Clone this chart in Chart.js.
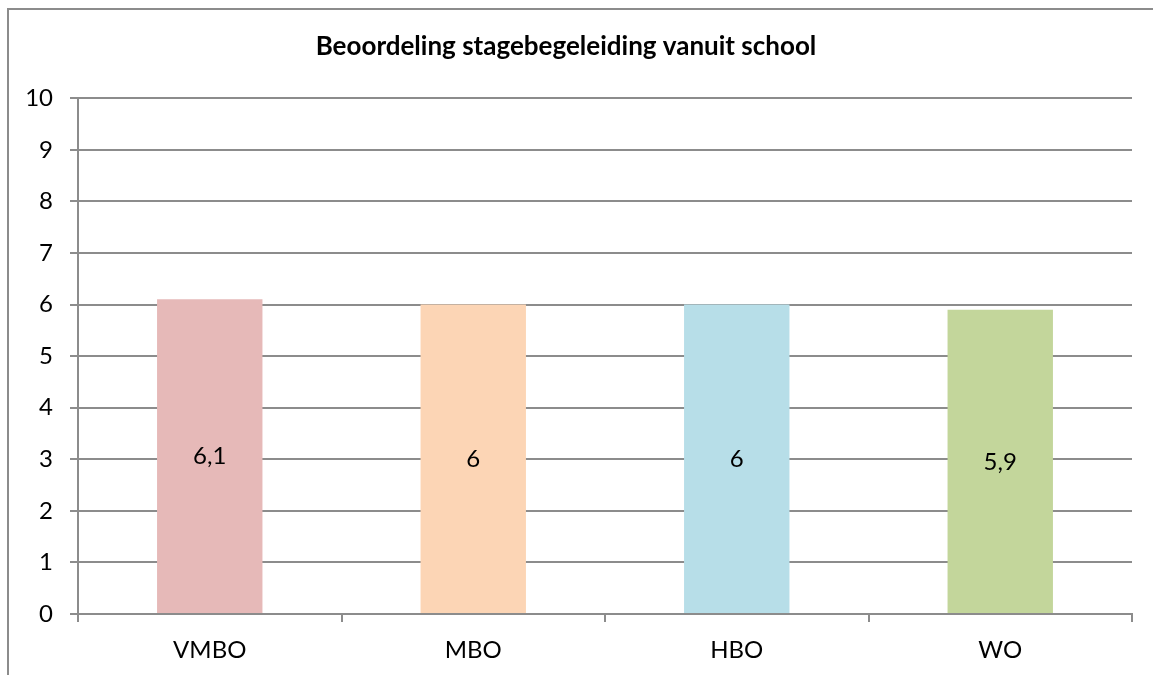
<!DOCTYPE html>
<html>
<head>
<meta charset="utf-8">
<script src="https://cdn.jsdelivr.net/npm/chart.js@4.4.1/dist/chart.umd.min.js"></script>
<style>
    html, body { margin: 0; padding: 0; background: #fff; overflow: hidden; }
    #wrap { position: relative; width: 1153px; height: 675px; }
    #frame {
        position: absolute; left: 7px; top: 8px;
        width: 1300px; height: 900px;
        border: 2px solid #8c8c8c;
    }
    #chart { position: absolute; left: 0; top: 0; }
</style>
</head>
<body>
<div id="wrap">
    <div id="frame"></div>
    <canvas id="chart" width="1153" height="675"></canvas>
</div>
<script>
const TITLE = 'Beoordeling stagebegeleiding vanuit school';
const categories = ['VMBO', 'MBO', 'HBO', 'WO'];
const scores = [6.1, 6, 6, 5.9];
const barColors = ['#E6B9B8', '#FCD5B5', '#B7DEE8', '#C3D69B'];
const yTicks = [0, 1, 2, 3, 4, 5, 6, 7, 8, 9, 10];

const FONT = 'Lato, "Open Sans", sans-serif';
const GRID = '#8c8c8c';

// labels in the middle of each bar, Dutch decimal comma
const barLabels = {
    id: 'barLabels',
    afterDatasetsDraw(chart) {
        const ctx = chart.ctx;
        const meta = chart.getDatasetMeta(0);
        const yScale = chart.scales.y;
        ctx.save();
        ctx.font = '24px ' + FONT;
        ctx.fillStyle = '#000';
        ctx.textAlign = 'center';
        ctx.textBaseline = 'middle';
        meta.data.forEach((bar, i) => {
            const v = scores[i];
            const yMid = yScale.getPixelForValue(v / 2);
            ctx.fillText(String(v).replace('.', ','), bar.x, yMid);
        });
        ctx.restore();
    }
};

new Chart(document.getElementById('chart'), {
    type: 'bar',
    data: {
        labels: categories,
        datasets: [{
            data: scores,
            backgroundColor: barColors,
            borderWidth: 0,
            categoryPercentage: 1,
            barPercentage: 0.4
        }]
    },
    options: {
        responsive: false,
        animation: false,
        events: [],
        layout: {
            padding: { top: 0, right: 21, bottom: 0, left: 0 }
        },
        plugins: {
            legend: { display: false },
            tooltip: { enabled: false },
            title: {
                display: true,
                text: TITLE,
                color: '#000',
                font: { family: FONT, size: 26, weight: 'bold' },
                padding: { top: 31, bottom: 36 }
            }
        },
        scales: {
            x: {
                grid: {
                    offset: true,
                    drawOnChartArea: false,
                    drawTicks: true,
                    tickLength: 8,
                    color: GRID,
                    lineWidth: 2
                },
                border: { color: GRID, width: 2 },
                ticks: {
                    color: '#000',
                    font: { family: FONT, size: 24 },
                    padding: 14
                },
                afterFit(scale) { scale.height = 61; }
            },
            y: {
                min: 0,
                max: 10,
                afterBuildTicks(scale) {
                    scale.ticks = yTicks.map(v => ({ value: v }));
                },
                grid: {
                    color: GRID,
                    lineWidth: 2,
                    drawTicks: true,
                    tickLength: 8
                },
                border: { color: GRID, width: 2 },
                ticks: {
                    color: '#000',
                    font: { family: FONT, size: 24 },
                    padding: 17
                },
                afterFit(scale) { scale.width = 78; }
            }
        }
    },
    plugins: [barLabels]
});
</script>
</body>
</html>
